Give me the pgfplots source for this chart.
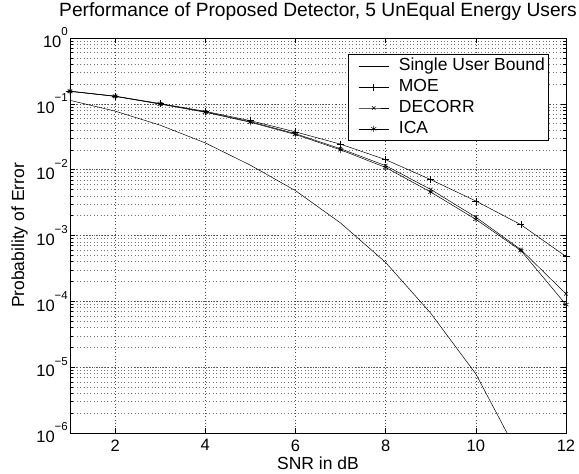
\documentclass[border=0pt]{standalone}
\usepackage{fontspec}
\setmainfont{Liberation Sans}
\usepackage{pgfplots}
\pgfplotsset{compat=1.18}
\newcommand\fs{\fontsize{16.5}{19}\selectfont}
\newcommand\fl{\fontsize{17.5}{20}\selectfont}
\newcommand\ft{\fontsize{19.2}{22}\selectfont}
\newcommand\tp[1]{10\raisebox{0.72em}{\fontsize{11.5}{12}\selectfont #1}}
\begin{document}
\begin{tikzpicture}
\path[use as bounding box] (-70pt,-41pt) rectangle (509pt,433pt);
\begin{axis}[
  scale only axis, width=496pt, height=395pt,
  ymode=log, xmin=1, xmax=12, ymin=1e-6, ymax=1,
  xtick={2,4,...,12},
  ytick={1e-6,1e-5,1e-4,1e-3,1e-2,1e-1,1},
  yticklabels={\tp{−6},\tp{−5},\tp{−4},\tp{−3},\tp{−2},\tp{−1},\tp{0}},
  /pgf/number format/assume math mode=true,
  ticklabel style={font=\fs},
  yticklabel style={inner xsep=2pt},
  xticklabel style={yshift=-3pt},
  grid=both,
  major grid style={black!70, line width=0.5pt, dash pattern=on 0.6pt off 2.6pt},
  minor grid style={black!55, line width=0.45pt, dash pattern=on 0.6pt off 2.8pt},
  axis line style={line width=0.8pt},
  tick style={black, line width=0.5pt},
  major tick length=5pt, minor tick length=3pt,
  title={Performance of Proposed Detector, 5 UnEqual Energy Users},
  title style={font=\ft, at={(axis description cs:0.5,1)}, anchor=base, yshift=15pt},
  xlabel={SNR in dB},
  xlabel style={font=\fl, at={(axis description cs:0.5,0)}, anchor=base, yshift=-36pt},
  ylabel={Probability of Error},
  ylabel style={font=\fl, at={(axis description cs:-0.0927,0.5)}, anchor=base},
  legend cell align=left,
  legend style={at={(axis description cs:0.5605,0.959)}, anchor=north west,
    draw=black, line width=0.8pt, fill=white, font=\fl, inner xsep=4pt, inner ysep=3.3pt,
    row sep=3.8pt, column sep=0pt,
    nodes={inner sep=0pt, text height=13pt, text depth=4pt}},
  legend image code/.code={\path (0pt,0pt) (46pt,0pt);
    \draw[line width=0.5pt, mark repeat=2, mark phase=2] plot coordinates {(6pt,0pt) (21pt,0pt) (36pt,0pt)};},
]
\addplot[black, line width=0.5pt] coordinates {
(1,0.113) (2,0.0775) (3,0.0474) (4,0.0255) (5,0.0117) (6,0.0048) (7,0.00155)
(8,3.9e-4) (9,6.6e-5) (10,7.9e-6) (11,4e-7)};
\addlegendentry{Single User Bound\hspace{10pt}}
\addplot[black, line width=0.5pt, mark=+, mark size=3.5pt, mark options={solid}] coordinates {
(1,0.156) (2,0.131) (3,0.101) (4,0.077) (5,0.0555) (6,0.0375) (7,0.0244)
(8,0.0142) (9,0.00706) (10,0.00334) (11,0.00146) (12,4.8e-4)};
\addlegendentry{MOE}
\addplot[black, line width=0.5pt, mark=x, mark size=2.5pt, mark options={solid}] coordinates {
(1,0.155) (2,0.130) (3,0.100) (4,0.0755) (5,0.0535) (6,0.0352) (7,0.0208)
(8,0.0115) (9,0.00501) (10,0.0019) (11,6.1e-4) (12,1.3e-4)};
\addlegendentry{DECORR}
\addplot[black, line width=0.5pt, mark=asterisk, mark size=3pt, mark options={solid}] coordinates {
(1,0.155) (2,0.130) (3,0.099) (4,0.0745) (5,0.0525) (6,0.0342) (7,0.0200)
(8,0.0108) (9,0.00457) (10,0.00176) (11,5.9e-4) (12,8.9e-5)};
\addlegendentry{ICA}
\end{axis}
\end{tikzpicture}
\end{document}
